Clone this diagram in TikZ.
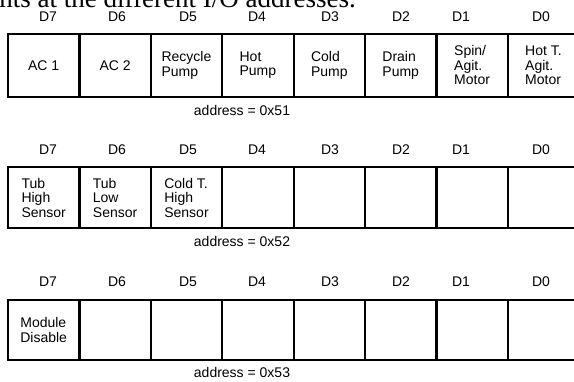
\documentclass[tikz,border=0pt]{standalone}
\usepackage{fontspec}
\setmainfont{Liberation Sans}
\newfontfamily\serifhead{Liberation Serif}
\begin{document}
\begin{tikzpicture}[x=1pt,y=-1pt,
  cell/.style={draw=black, line width=2.2pt, minimum width=71.4pt, inner sep=0pt, align=left,
     font=\fontsize{14}{14.5}\selectfont},
  bitlab/.style={anchor=base, font=\fontsize{14}{14}\selectfont, inner sep=0pt},
  addr/.style={anchor=base, font=\fontsize{14}{14}\selectfont, inner sep=0pt}]
\useasboundingbox (0,0) rectangle (574,381);
\clip (0,0) rectangle (574,381);
\fill[white] (0,0) rectangle (574,381);
\node[anchor=base east, inner sep=0pt, font=\serifhead\fontsize{27}{28}\selectfont] (head) at (356,7) {points at the different I/O addresses.};
% row 1
\foreach \lab/\x in {7/48,6/117,5/188,4/257,3/330,2/401,1/461,0/541}
  \node[bitlab] (a\lab) at (\x,21.7) {D\lab};
\node[cell, minimum height=62.7pt] (r1c7) at (43.7,65.35) {AC 1};
\node[cell, minimum height=62.7pt] (r1c6) at (115.1,65.35) {AC 2};
\node[cell, minimum height=62.7pt] (r1c5) at (186.5,65.35) {Recycle\\Pump};
\node[cell, minimum height=62.7pt] (r1c4) at (257.9,65.35) {Hot\\Pump};
\node[cell, minimum height=62.7pt] (r1c3) at (329.3,65.35) {Cold\\Pump};
\node[cell, minimum height=62.7pt] (r1c2) at (400.7,65.35) {Drain\\Pump};
\node[cell, minimum height=62.7pt] (r1c1) at (472.1,65.35) {Spin/\\Agit.\\Motor};
\node[cell, minimum height=62.7pt] (r1c0) at (543.5,65.35) {Hot T.\\Agit.\\Motor};
\node[addr] (ad1) at (242,115.5) {address = 0x51};
% row 2
\foreach \lab/\x in {7/48,6/117,5/188,4/257,3/330,2/401,1/461,0/541}
  \node[bitlab] (b\lab) at (\x,154) {D\lab};
\node[cell, minimum height=60.4pt] (r2c7) at (43.7,197.5) {Tub\\High\\Sensor};
\node[cell, minimum height=60.4pt] (r2c6) at (115.1,197.5) {Tub\\Low\\Sensor};
\node[cell, minimum height=60.4pt] (r2c5) at (186.5,197.5) {Cold T.\\High\\Sensor};
\node[cell, minimum height=60.4pt] (r2c4) at (257.9,197.5) {};
\node[cell, minimum height=60.4pt] (r2c3) at (329.3,197.5) {};
\node[cell, minimum height=60.4pt] (r2c2) at (400.7,197.5) {};
\node[cell, minimum height=60.4pt] (r2c1) at (472.1,197.5) {};
\node[cell, minimum height=60.4pt] (r2c0) at (543.5,197.5) {};
\node[addr] (ad2) at (242,246) {address = 0x52};
% row 3
\foreach \lab/\x in {7/48,6/117,5/188,4/257,3/330,2/401,1/461,0/541}
  \node[bitlab] (c\lab) at (\x,286) {D\lab};
\node[cell, minimum height=60pt] (r3c7) at (43.7,330) {Module\\Disable};
\node[cell, minimum height=60pt] (r3c6) at (115.1,330) {};
\node[cell, minimum height=60pt] (r3c5) at (186.5,330) {};
\node[cell, minimum height=60pt] (r3c4) at (257.9,330) {};
\node[cell, minimum height=60pt] (r3c3) at (329.3,330) {};
\node[cell, minimum height=60pt] (r3c2) at (400.7,330) {};
\node[cell, minimum height=60pt] (r3c1) at (472.1,330) {};
\node[cell, minimum height=60pt] (r3c0) at (543.5,330) {};
\node[addr] (ad3) at (242,377) {address = 0x53};
\end{tikzpicture}
\end{document}
